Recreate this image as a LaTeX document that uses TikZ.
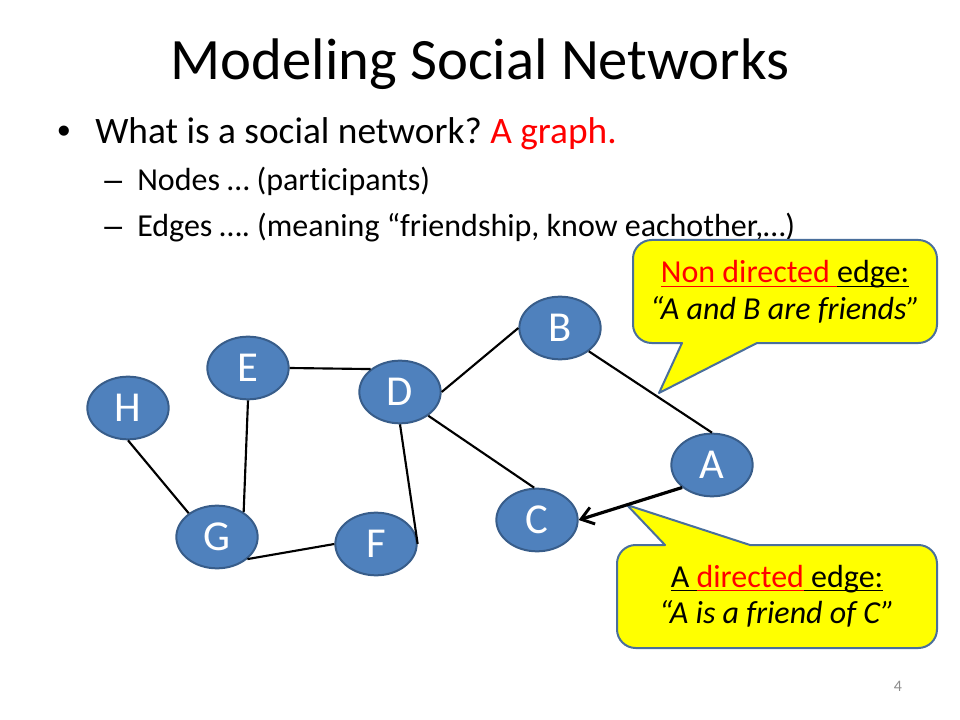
\documentclass[tikz,border=0pt]{standalone}
\usepackage{fontspec}
\setmainfont{Carlito}[Ligatures={TeX,NoCommon}]
\newfontfamily\arialfont{Liberation Sans}
\usetikzlibrary{shapes.geometric,arrows.meta}
\definecolor{nodefill}{HTML}{4F81BD}
\definecolor{nodeline}{HTML}{385D8A}
\definecolor{callfill}{HTML}{FFFF00}
\definecolor{callline}{HTML}{4A6F9C}
\definecolor{pgnum}{HTML}{8C8C8C}
\definecolor{txtred}{HTML}{FF0000}
\newcommand{\myul}[1]{\setbox0\hbox{#1}\rlap{\rule[-3.2pt]{\wd0}{1.1pt}}\box0}
\tikzset{
  person/.style={ellipse, fill=nodefill, draw=nodeline, line width=1.5pt,
    minimum width=61pt, minimum height=47pt, inner sep=0pt,
    text=white, font=\fontsize{32}{32}\selectfont},
  link/.style={line width=1.6pt, draw=black},
  dlink/.style={line width=2.4pt, draw=black, -{Straight Barb[length=9pt,width=13pt,line width=2.2pt]}},
  callout/.style={fill=callfill, draw=callline, line width=1.5pt, line join=round},
  calltext/.style={align=center, font=\fontsize{24}{28}\selectfont, inner sep=0pt},
  bodytext/.style={anchor=base west, inner sep=0pt},
}
\begin{document}
\frenchspacing
\begin{tikzpicture}[x=0.75pt,y=-0.75pt]
\useasboundingbox (0,0) rectangle (960,720);
% title
\node[anchor=base, inner sep=0pt, font=\fontsize{44}{44}\selectfont] (title) at (480,80) {Modeling Social Networks};
% bullets
\node[bodytext, font=\arialfont\fontsize{28}{28}\selectfont] (b1mark) at (57,144) {•};
\node[bodytext, font=\fontsize{28}{28}\selectfont] (b1) at (95,144) {What is a social network? \textcolor{txtred}{A graph.}};
\node[bodytext, font=\arialfont\fontsize{24}{24}\selectfont] (b2mark) at (104,191) {–};
\node[bodytext, font=\fontsize{24}{24}\selectfont] (b2) at (137,191) {Nodes … (participants)};
\node[bodytext, font=\arialfont\fontsize{24}{24}\selectfont] (b3mark) at (104,237) {–};
\node[bodytext, font=\fontsize{24}{24}\selectfont] (b3) at (137,237) {Edges …. (meaning “friendship, know eachother,…)};
% callout 1
\draw[callout] (682,343) -- (659,393) -- (757,343) [rounded corners=14pt] -- (937,343) -- (937,240) -- (633,240) -- (633,343) [sharp corners] -- cycle;
\node[calltext, anchor=base] (c1a) at (785,283) {{\color{txtred}\myul{Non directed }}\myul{edge:}};
\node[calltext, anchor=base] (c1b) at (785,320) {\itshape “A and B are friends”};
% callout 2
\draw[callout] (665,545) -- (627,505) -- (750,545) [rounded corners=14pt] -- (937,545) -- (937,648) -- (617,648) -- (617,545) [sharp corners] -- cycle;
\node[calltext, anchor=base] (c2a) at (777,587) {\myul{A }{\color{txtred}\myul{directed}}\myul{ edge:}};
\node[calltext, anchor=base] (c2b) at (777,623) {\itshape “A is a friend of C”};
% nodes
\node[person] (H) at (128,408) {H};
\node[person] (E) at (248,368) {E};
\node[person] (D) at (400,392) {D};
\node[person] (B) at (560,328) {B};
\node[person] (A) at (712,465) {A};
\node[person] (C) at (537,520) {C};
\node[person] (G) at (217,537) {G};
\node[person] (F) at (376,544) {F};
% edges
\draw[link] (H.south) -- (G.140);
\draw[link] (E.south) -- (G.43);
\draw[link] (E.east) -- (D.142);
\draw[link] (D.south) -- (F.east);
\draw[link] (G.-36) -- (F.west);
\draw[link] (D.east) -- (B.west);
\draw[link] (D.-40) -- (C.95);
\draw[link] (B.-39) -- (A.north);
\draw[dlink] (A.217) -- (C.east);
% page number
\node[anchor=base, inner sep=0pt, text=pgnum, font=\fontsize{12}{12}\selectfont] (pg) at (898,691) {4};
\end{tikzpicture}
\end{document}
